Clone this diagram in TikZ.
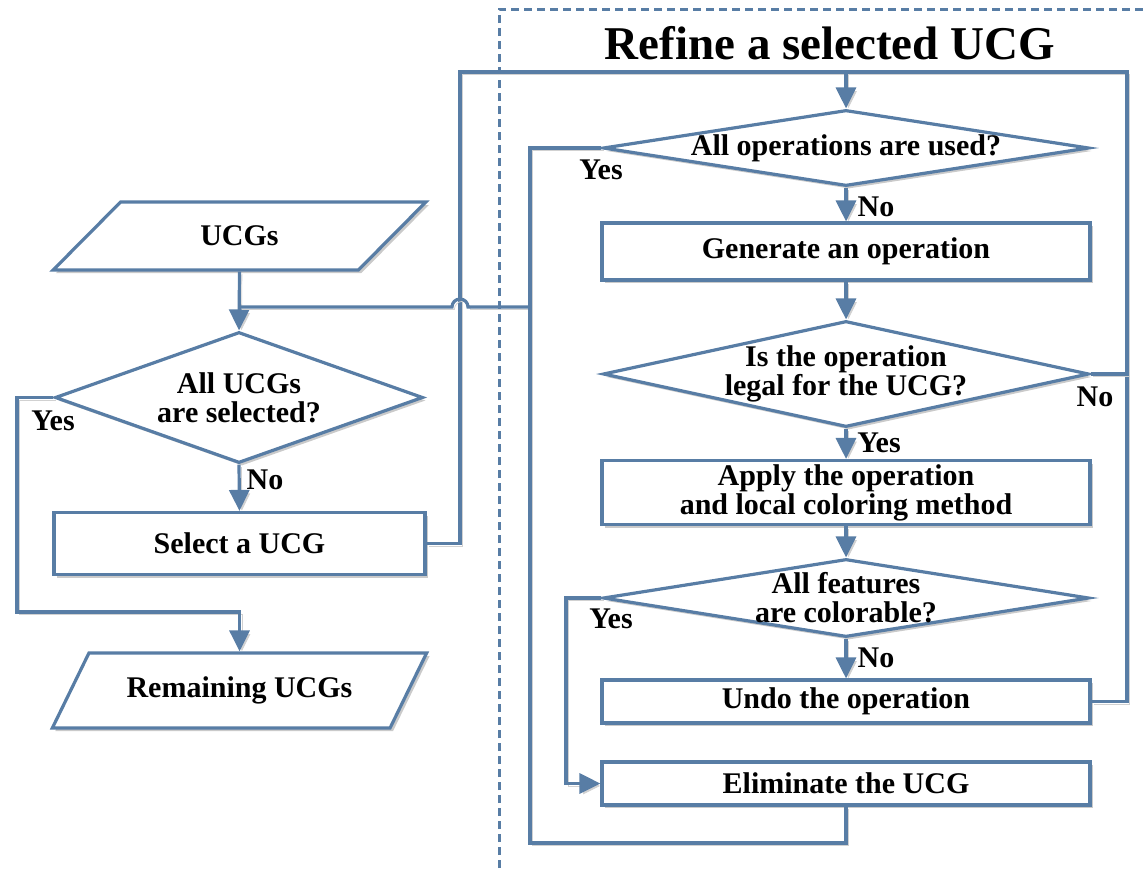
\documentclass[tikz,border=0pt]{standalone}
\usepackage{fontspec}
\setmainfont{Liberation Serif}
\usetikzlibrary{shapes.geometric,arrows.meta,shadows}
\definecolor{flow}{RGB}{88,125,165}
\begin{document}
\begin{tikzpicture}[x=0.5pt,y=-0.5pt,
  txt/.style={font=\fontsize{15}{14.5}\selectfont\bfseries,align=center},
  conn/.style={draw=flow,line width=1.6pt,
    preaction={draw=black!18,transform canvas={xshift=1.2pt,yshift=-1.2pt}}},
  arr/.style={conn,-{Triangle[length=10.5pt,width=10pt]}},
  shade/.style={drop shadow={shadow xshift=1.5pt,shadow yshift=-1.5pt,opacity=0.35,fill=black!60}},
  shapebase/.style={draw=flow,line width=1.6pt,fill=white,shade,inner sep=0pt,txt},
  stepbox/.style={shapebase,rectangle,minimum width=244pt},
  ask/.style={shapebase,diamond},
  io/.style={shapebase,trapezium,trapezium stretches=true,minimum width=187.5pt},
  lbl/.style={txt,inner sep=0pt}
]
\useasboundingbox (0,0) rectangle (1146,868);

% refinement frame
\draw[flow,line width=1.5pt,dash pattern=on 4pt off 2.5pt] (499,868) -- (499,9) -- (1146,9);
\node[font=\fontsize{23.5}{28}\selectfont\bfseries] (title) at (830,43) {Refine a selected UCG};

% outer loop
\node[io,minimum height=34pt,trapezium left angle=42.2,trapezium right angle=137.8] (ucgs) at (239.5,236) {UCGs};
\node[ask,minimum width=184pt,minimum height=65.5pt,
      label={[txt]center:All UCGs\\are selected?}] (d0) at (239,397.5) {};
\node[stepbox,minimum width=185.5pt,minimum height=31pt] (sel) at (239.5,543.5) {Select a UCG};
\node[io,minimum height=37.5pt,trapezium left angle=45,trapezium right angle=135] (rem) at (239.5,690.5) {Remaining UCGs};

% refinement steps
\node[ask,minimum width=243pt,minimum height=38pt,
      label={[txt]center:All operations are used?}] (d1) at (846,148) {};
\node[stepbox,minimum height=28.5pt] (gen) at (846,251.5) {Generate an operation};
\node[ask,minimum width=243pt,minimum height=53pt,
      label={[txt]center:Is the operation\\legal for the UCG?}] (d2) at (846,374) {};
\node[stepbox,minimum height=32pt] (apply) at (846,492.5) {Apply the operation\\and local coloring method};
\node[ask,minimum width=243pt,minimum height=39pt,
      label={[txt]center:All features\\are colorable?}] (d3) at (846,598) {};
\node[stepbox,minimum height=21.5pt] (undo) at (846,701.5) {Undo the operation};
\node[stepbox,minimum height=21.5pt] (elim) at (846,783.5) {Eliminate the UCG};

% routing points
\coordinate (top) at (846,72);
\coordinate (ret) at (530,307);
\coordinate (join) at (239.5,307);

% outer loop connectors
\draw[arr] (ucgs.south) -- (d0.north);
\draw[arr] (d0.south) -- (sel.north);
\draw[arr] (d0.west) -- (17,397.5) -- (17,612) -- (rem.north |- 0,612) -- (rem.north);
\draw[conn] (sel.east) -- (460,543.5) -- (460,72) -- (top) -- (1127,72) -- (1127,701.5) -- (undo.east);
\draw[conn] (ret) -- (468,307) arc[start angle=0,end angle=180,radius=4pt] -- (join);

% refinement connectors
\draw[arr] (top) -- (d1.north);
\draw[arr] (d1.south) -- (gen.north);
\draw[arr] (gen.south) -- (d2.north);
\draw[arr] (d2.south) -- (apply.north);
\draw[arr] (apply.south) -- (d3.north);
\draw[arr] (d3.south) -- (undo.north);
\draw[conn] (d2.east) -- (1127,374);
\draw[arr] (d3.west) -- (566,598) |- (elim.west);
\draw[conn] (d1.west) -- (530,148) -- (530,843) -| (elim.south);

% branch labels
\node[lbl] (y0) at (53,421) {Yes};
\node[lbl] (n0) at (265,480) {No};
\node[lbl] (y1) at (601,170) {Yes};
\node[lbl] (n1) at (876,207) {No};
\node[lbl] (y2) at (879,443) {Yes};
\node[lbl] (n2) at (1095,397) {No};
\node[lbl] (y3) at (611,619) {Yes};
\node[lbl] (n3) at (876,658) {No};
\end{tikzpicture}
\end{document}
